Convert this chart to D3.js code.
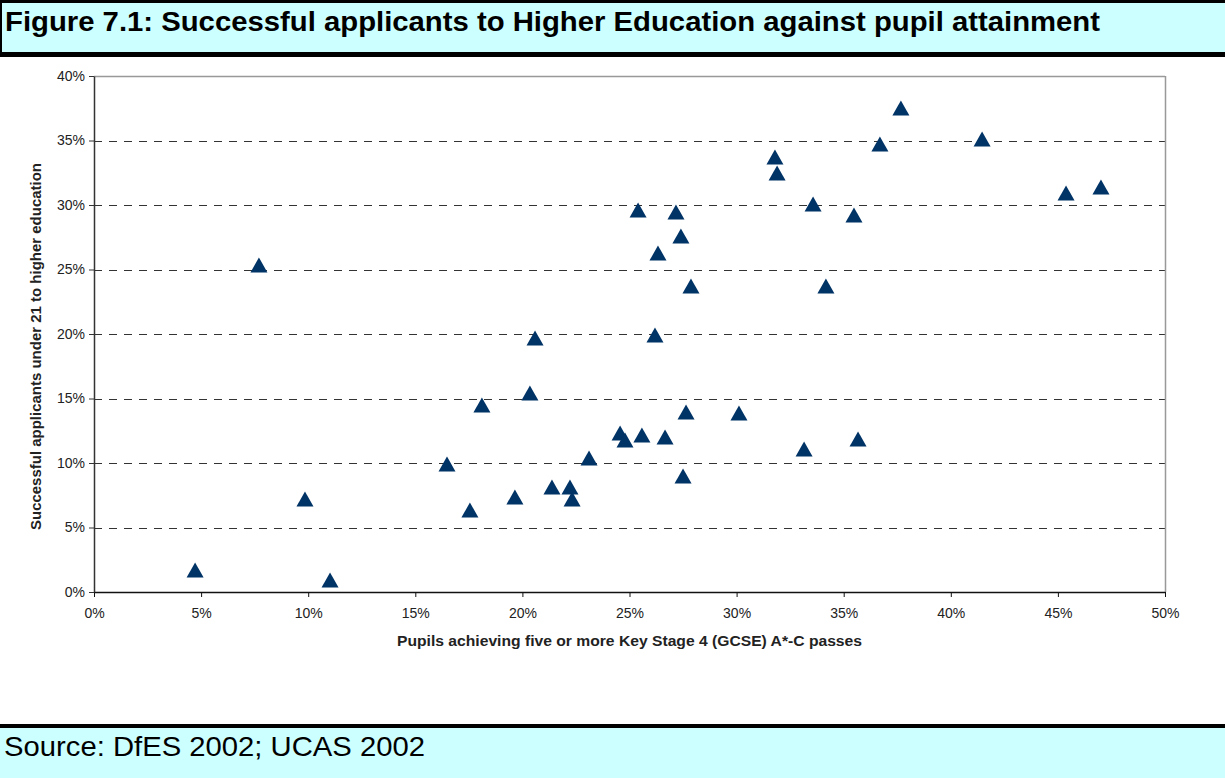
<!DOCTYPE html>
<html>
<head>
<meta charset="utf-8">
<script src="https://cdn.jsdelivr.net/npm/d3@7"></script>
<style>
  html, body { margin: 0; padding: 0; background: #fff; }
  svg { display: block; }
</style>
</head>
<body>
<svg id="chart" width="1225" height="778"></svg>
<script>
const titleText = "Figure 7.1: Successful applicants to Higher Education against pupil attainment";
const sourceText = "Source: DfES 2002; UCAS 2002";
const xTitle = "Pupils achieving five or more Key Stage 4 (GCSE) A*-C passes";
const yTitle = "Successful applicants under 21 to higher education";

const xTicks = [0, 5, 10, 15, 20, 25, 30, 35, 40, 45, 50];
const yTicks = [0, 5, 10, 15, 20, 25, 30, 35, 40];

// Pupil attainment (% five or more A*-C)
const attainment = [4.72, 7.70, 9.85, 11.02, 16.48, 17.55, 18.11, 19.65, 20.35, 20.59,
  21.38, 22.22, 22.32, 23.11, 24.56, 24.79, 25.40, 25.58, 26.33, 26.19,
  26.66, 27.17, 27.40, 27.50, 27.64, 27.87, 30.11, 31.79, 31.89, 33.15,
  33.57, 34.17, 35.48, 35.67, 36.69, 37.67, 41.46, 45.38, 47.01];
// Successful applicants under 21 (%)
const applicants = [1.63, 25.27, 7.13, 0.85, 9.84, 6.28, 14.42, 7.29, 15.35, 19.61,
  8.06, 8.06, 7.13, 10.31, 12.25, 11.70, 29.53, 12.09, 26.20, 19.84,
  11.94, 29.38, 27.52, 8.91, 13.88, 23.64, 13.80, 33.64, 32.40, 11.00,
  30.00, 23.64, 29.15, 11.78, 34.65, 37.44, 35.04, 30.85, 31.32];

const points = attainment.map((v, i) => ({ x: v, y: applicants[i] }));

const svg = d3.select("#chart");
const W = 1225, H = 778;
const FONT = "Liberation Sans, Arial, sans-serif";

// Header band
svg.append("rect").attr("x", 0).attr("y", 0).attr("width", W).attr("height", 55).attr("fill", "#ccffff");
svg.append("rect").attr("x", 0).attr("y", 0).attr("width", W).attr("height", 3).attr("fill", "#000");
svg.append("rect").attr("x", 0).attr("y", 52).attr("width", W).attr("height", 5).attr("fill", "#000");
svg.append("rect").attr("x", 0).attr("y", 0).attr("width", 2).attr("height", 57).attr("fill", "#000");
svg.append("text").attr("x", 5).attr("y", 31)
  .attr("font-family", FONT)
  .attr("font-weight", "bold").attr("font-size", 28).attr("fill", "#000")
  .attr("textLength", 1095).attr("lengthAdjust", "spacingAndGlyphs")
  .text(titleText);

// Footer band
svg.append("rect").attr("x", 0).attr("y", 725).attr("width", W).attr("height", H - 725).attr("fill", "#ccffff");
svg.append("rect").attr("x", 0).attr("y", 724).attr("width", W).attr("height", 4).attr("fill", "#000");
svg.append("text").attr("x", 4).attr("y", 756)
  .attr("font-family", FONT)
  .attr("font-size", 28).attr("fill", "#000")
  .attr("textLength", 421).attr("lengthAdjust", "spacingAndGlyphs")
  .text(sourceText);

// Plot area
const pLeft = 94, pRight = 1165, pTop = 76, pBottom = 592;
const xScale = d3.scaleLinear().domain([0, 50]).range([pLeft, pRight]);
const yScale = d3.scaleLinear().domain([0, 40]).range([pBottom, pTop]);

// Gridlines (dashed)
svg.append("g").selectAll("line").data(yTicks.filter(t => t > 0 && t < 40)).join("line")
  .attr("x1", pLeft).attr("x2", pRight)
  .attr("y1", d => Math.round(yScale(d)) + 0.5).attr("y2", d => Math.round(yScale(d)) + 0.5)
  .attr("stroke", "#333").attr("stroke-width", 1).attr("stroke-dasharray", "8,7");

// Frame top & right (gray)
svg.append("line").attr("x1", pLeft).attr("x2", pRight).attr("y1", pTop + 0.5).attr("y2", pTop + 0.5)
  .attr("stroke", "#999").attr("stroke-width", 1.5);
svg.append("line").attr("x1", pRight + 0.5).attr("x2", pRight + 0.5).attr("y1", pTop).attr("y2", pBottom)
  .attr("stroke", "#999").attr("stroke-width", 1.5);

const fmt = d => d + "%";

// X axis
const xAxis = svg.append("g").attr("transform", `translate(0,${pBottom})`)
  .call(d3.axisBottom(xScale).tickValues(xTicks).tickFormat(fmt).tickSize(5).tickSizeOuter(0));
xAxis.select(".domain").attr("stroke", "#111").attr("stroke-width", 1.5);
xAxis.selectAll(".tick line").attr("stroke", "#111");
xAxis.selectAll("text").attr("font-family", FONT)
  .attr("font-size", 14).attr("fill", "#222").attr("dy", "1.3em");

// Y axis
const yAxis = svg.append("g").attr("transform", `translate(${pLeft},0)`)
  .call(d3.axisLeft(yScale).tickValues(yTicks).tickFormat(fmt).tickSize(5).tickSizeOuter(0));
yAxis.select(".domain").attr("stroke", "#333").attr("stroke-width", 1.5);
yAxis.selectAll(".tick line").attr("stroke", "#333");
yAxis.selectAll("text").attr("font-family", FONT)
  .attr("font-size", 14).attr("fill", "#222").attr("x", -9);

// Axis titles
svg.append("text").attr("x", 629.5).attr("y", 646).attr("text-anchor", "middle")
  .attr("font-family", FONT).attr("font-weight", "bold")
  .attr("font-size", 14).attr("fill", "#222")
  .attr("textLength", 465).attr("lengthAdjust", "spacingAndGlyphs")
  .text(xTitle);
svg.append("text").attr("transform", `translate(41,346.5) rotate(-90)`)
  .attr("text-anchor", "middle")
  .attr("font-family", FONT).attr("font-weight", "bold")
  .attr("font-size", 14).attr("fill", "#222")
  .attr("textLength", 367).attr("lengthAdjust", "spacingAndGlyphs")
  .text(yTitle);

// Triangle markers
const tri = "M0,-8.5L8.5,6.5L-8.5,6.5Z";
svg.append("g").selectAll("path").data(points).join("path")
  .attr("d", tri)
  .attr("transform", d => `translate(${xScale(d.x)},${yScale(d.y)})`)
  .attr("fill", "#003366");
</script>
</body>
</html>
